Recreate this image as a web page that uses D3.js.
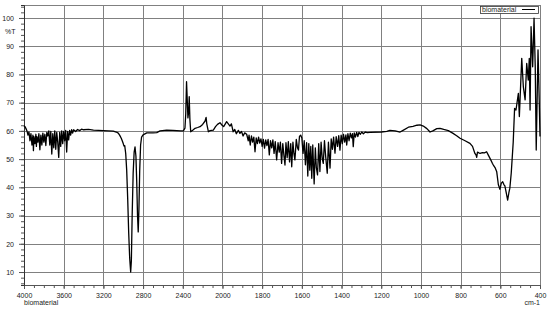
<!DOCTYPE html>
<html lang="en">
<head>
    <meta charset="UTF-8">
    <title>FTIR spectrum - biomaterial</title>
    <script src="https://d3js.org/d3.v7.min.js"></script>
    <style>
        body { margin: 0; background: #fff; }
        text { font-family: "Liberation Sans", Arial, sans-serif; fill: #222; }
    </style>
</head>
<body>
    <svg width="550" height="310" id="chart"></svg>

    <script>
        // spectrum, [wavenumber cm-1, %T]
        const regionOH = [
            [4000, 61.8], [3990, 61.5], [3980, 60.8], [3970, 60.0], [3960, 58.5], [3950, 59.6],
            [3940, 56.5], [3930, 59.0], [3920, 55.0], [3910, 58.5], [3905, 53.0], [3900, 58.0],
            [3890, 55.5], [3880, 58.8], [3875, 54.5], [3870, 58.0], [3860, 56.0], [3850, 59.0],
            [3840, 53.3], [3830, 58.5], [3820, 55.0], [3810, 59.2], [3800, 56.0], [3790, 58.8],
            [3780, 54.8], [3770, 59.5], [3760, 58.2], [3750, 60.0], [3740, 55.0], [3730, 59.8],
            [3720, 51.8], [3710, 59.0], [3700, 54.0], [3690, 60.0], [3680, 53.5], [3670, 59.5],
            [3660, 56.0], [3650, 50.6], [3640, 59.5], [3630, 54.5], [3620, 60.0], [3610, 55.5],
            [3600, 59.8], [3590, 56.5], [3580, 60.2], [3570, 52.5], [3560, 59.8], [3550, 56.8],
            [3540, 60.2], [3530, 58.5], [3520, 60.4], [3510, 59.2], [3500, 60.4], [3480, 59.8],
            [3460, 60.5], [3440, 60.1], [3420, 60.6], [3400, 60.4], [3350, 60.5], [3300, 60.3]
        ];

        const regionCH = [
            [3250, 60.2], [3200, 60.1], [3150, 60.0], [3100, 59.9], [3070, 59.6], [3050, 59.2],
            [3035, 58.4], [3020, 57.4], [3010, 56.5], [3000, 55.5], [2992, 54.6], [2985, 54.8],
            [2975, 52.0], [2965, 46.0], [2955, 36.0], [2945, 24.0], [2935, 15.0], [2925, 10.0],
            [2918, 14.0], [2910, 30.0], [2900, 45.0], [2890, 52.5], [2881, 54.3], [2872, 51.0],
            [2864, 42.0], [2856, 30.0], [2849, 24.2], [2842, 32.0], [2834, 46.0], [2825, 55.0],
            [2815, 57.8], [2800, 58.6], [2763, 59.3], [2700, 59.3], [2662, 59.4], [2629, 60.0],
            [2562, 60.3], [2500, 60.2], [2420, 60.0], [2394, 60.0], [2378, 61.0], [2370, 66.0],
            [2362, 77.4], [2356, 72.0], [2348, 64.6], [2340, 67.0], [2335, 72.1], [2328, 64.0],
            [2320, 59.7], [2300, 60.2], [2276, 60.9], [2250, 61.2], [2226, 61.5], [2200, 62.3],
            [2175, 63.5], [2165, 64.8], [2158, 62.5], [2142, 59.7], [2125, 60.1], [2092, 60.3],
            [2070, 61.5], [2050, 62.3], [2025, 62.9], [2006, 62.1], [1994, 61.5], [1979, 63.3]
        ];

        const fingerprint = [
            [1962, 61.7], [1955, 62.5], [1946, 59.7], [1938, 60.5], [1930, 59.0], [1920, 60.2],
            [1912, 59.1], [1904, 59.8], [1896, 58.2], [1888, 59.3], [1878, 58.8], [1870, 56.5],
            [1866, 58.5], [1860, 55.0], [1854, 58.2], [1848, 56.0], [1842, 57.8], [1836, 52.6],
            [1830, 57.5], [1824, 55.5], [1818, 57.8], [1812, 55.7], [1806, 57.2], [1800, 54.5],
            [1794, 57.0], [1788, 53.9], [1782, 56.8], [1776, 54.8], [1770, 57.0], [1764, 51.5],
            [1758, 56.5], [1752, 54.0], [1746, 56.8], [1740, 52.0], [1734, 56.2], [1727, 49.7],
            [1720, 55.8], [1714, 52.5], [1708, 56.0], [1702, 48.5], [1696, 55.5], [1690, 51.0],
            [1685, 47.9], [1680, 55.8], [1674, 50.5], [1668, 56.2], [1662, 49.0], [1656, 55.5],
            [1651, 47.3], [1645, 56.0], [1640, 52.0], [1635, 49.7], [1628, 57.0], [1622, 54.0],
            [1617, 53.2], [1612, 58.0], [1606, 58.5], [1600, 57.5], [1594, 52.0], [1588, 56.5],
            [1582, 48.0], [1576, 55.8], [1570, 44.0], [1565, 55.5], [1560, 46.1], [1555, 54.5],
            [1550, 43.2], [1545, 55.0], [1538, 41.2], [1532, 54.0], [1527, 47.0], [1521, 44.4],
            [1515, 55.5], [1509, 45.6], [1503, 56.0], [1497, 50.0], [1492, 48.5], [1486, 56.5],
            [1480, 51.0], [1472, 45.0], [1466, 56.0], [1458, 46.8], [1452, 57.2], [1446, 53.5],
            [1440, 57.8], [1433, 52.1], [1427, 58.0], [1420, 54.5], [1414, 58.3], [1408, 53.2],
            [1402, 58.5], [1396, 55.5], [1390, 58.8], [1384, 56.0], [1378, 58.6], [1374, 55.0],
            [1368, 59.0], [1362, 56.5], [1356, 59.2], [1350, 57.5], [1345, 59.0], [1341, 54.4],
            [1336, 59.3], [1330, 57.8], [1324, 59.5], [1318, 58.0], [1312, 59.5], [1305, 58.8],
            [1298, 59.6], [1290, 59.0], [1280, 59.6], [1270, 59.4], [1257, 59.5]
        ];

        const lowRegion = [
            [1200, 59.6], [1172, 59.8], [1156, 60.2], [1130, 60.0], [1105, 59.6], [1090, 60.2],
            [1063, 61.3], [1040, 61.6], [1020, 62.0], [1004, 62.1], [988, 61.7], [970, 60.8],
            [954, 59.6], [940, 60.0], [920, 60.8], [904, 60.9], [885, 60.5], [862, 60.1],
            [840, 59.2], [820, 58.3], [803, 57.4], [780, 56.6], [753, 55.6], [740, 54.5],
            [728, 52.0], [722, 51.4], [719, 50.6], [715, 52.5], [702, 52.0], [690, 52.3],
            [680, 52.2], [669, 52.6], [661, 51.5], [650, 50.0], [640, 48.5], [635, 47.9],
            [625, 46.8], [618, 45.5], [610, 41.0], [602, 39.3], [595, 41.5], [588, 42.0],
            [582, 41.0], [577, 40.5], [570, 38.0], [563, 35.5], [557, 38.0], [552, 39.7],
            [545, 45.0], [535, 56.0], [528, 68.0], [521, 67.4], [509, 73.3], [504, 65.1],
            [492, 85.7], [484, 75.7], [475, 71.0], [467, 83.9], [459, 78.0], [454, 85.7],
            [450, 67.4], [445, 96.9], [437, 82.7], [430, 99.9], [424, 82.7], [419, 53.2],
            [410, 88.7], [404, 71.0], [400, 58.0]
        ];

        const xMajorTicks = [4000, 3600, 3200, 2800, 2400, 2000, 1800, 1600, 1400, 1200, 1000, 800, 600, 400];
        const yMajorTicks = [10, 20, 30, 40, 50, 60, 70, 80, 90, 100];
        const seriesName = "biomaterial";

        const spectrum = regionOH.concat(regionCH, fingerprint, lowRegion);

        const svg = d3.select("#chart");
        const plotLeft = 24, plotRight = 540, plotTop = 5, plotBottom = 285;

        // x axis changes scale at 2000 cm-1 like the instrument plot
        const x = d3.scaleLinear()
            .domain([4000, 2000, 400])
            .range([plotLeft, plotLeft + 5 * (plotRight - plotLeft) / 13, plotRight]);
        const y = d3.scaleLinear().domain([5.4, 104.6]).range([plotBottom, plotTop]);

        // minor ticks: every 100 above 2000, every 50 below
        const xMinor = d3.range(4000, 2000, -100).concat(d3.range(2000, 399, -50));
        const yMinor = d3.range(6, 105, 2);

        // grid
        const grid = svg.append("g").attr("stroke", "#808080").attr("stroke-width", 1);
        grid.selectAll(".vg").data(xMajorTicks.slice(1)).enter().append("line")
            .attr("x1", d => Math.round(x(d)) + 0.5).attr("x2", d => Math.round(x(d)) + 0.5)
            .attr("y1", plotTop).attr("y2", plotBottom);
        grid.selectAll(".hg").data(yMajorTicks).enter().append("line")
            .attr("x1", plotLeft).attr("x2", plotRight)
            .attr("y1", d => Math.round(y(d)) + 0.5).attr("y2", d => Math.round(y(d)) + 0.5);
        grid.append("line").attr("x1", plotLeft).attr("x2", plotRight)
            .attr("y1", plotTop + 0.5).attr("y2", plotTop + 0.5);

        // axes
        svg.append("g").attr("transform", `translate(0,${plotBottom})`)
            .call(d3.axisBottom(x).tickValues(xMinor).tickSize(3).tickFormat(""))
            .call(g => g.select(".domain").attr("stroke", "#555"))
            .call(g => g.selectAll(".tick line").attr("stroke", "#555"));
        svg.append("g").attr("transform", `translate(0,${plotBottom})`)
            .call(d3.axisBottom(x).tickValues(xMajorTicks).tickSize(4).tickPadding(4).tickFormat(d3.format("d")))
            .call(g => g.select(".domain").remove())
            .call(g => g.selectAll(".tick line").attr("stroke", "#555"))
            .call(g => g.selectAll("text").attr("font-size", 7).attr("fill", "#222")
                .attr("font-family", "Liberation Sans, Arial"));

        svg.append("g").attr("transform", `translate(${plotLeft},0)`)
            .call(d3.axisLeft(y).tickValues(yMinor).tickSize(3).tickFormat(""))
            .call(g => g.select(".domain").attr("stroke", "#333"))
            .call(g => g.selectAll(".tick line").attr("stroke", "#555"));
        svg.append("g").attr("transform", `translate(${plotLeft},0)`)
            .call(d3.axisLeft(y).tickValues(yMajorTicks).tickSize(5).tickPadding(5))
            .call(g => g.select(".domain").remove())
            .call(g => g.selectAll(".tick line").attr("stroke", "#555"))
            .call(g => g.selectAll("text").attr("font-size", 7).attr("fill", "#222")
                .attr("font-family", "Liberation Sans, Arial"));

        svg.append("text").attr("x", 5).attr("y", 34).attr("font-size", 7).text("%T");
        svg.append("text").attr("x", plotLeft).attr("y", 305).attr("font-size", 7).text(seriesName);
        svg.append("text").attr("x", plotRight).attr("y", 305).attr("font-size", 7)
            .attr("text-anchor", "end").text("cm-1");

        // spectrum line
        const line = d3.line().x(d => x(d[0])).y(d => y(d[1]));
        svg.append("path").datum(spectrum)
            .attr("fill", "none").attr("stroke", "#000").attr("stroke-width", 1.3)
            .attr("stroke-linejoin", "round").attr("d", line);

        // legend
        const legend = svg.append("g").attr("transform", "translate(480,6)");
        legend.append("rect").attr("x", 0.5).attr("y", 0.5).attr("width", 58).attr("height", 7)
            .attr("fill", "#fff").attr("stroke", "#333").attr("stroke-width", 0.8);
        legend.append("text").attr("x", 2).attr("y", 6.3).attr("font-size", 7).text(seriesName);
        legend.append("line").attr("x1", 42).attr("x2", 55).attr("y1", 3.5).attr("y2", 3.5)
            .attr("stroke", "#000").attr("stroke-width", 1);
    </script>
</body>
</html>
